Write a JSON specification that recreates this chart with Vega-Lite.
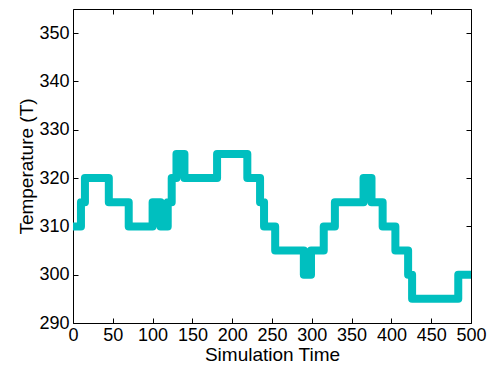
{
  "$schema": "https://vega.github.io/schema/vega-lite/v6.json",
  "autosize": {"type": "none"},
  "padding": {"left": 73, "top": 9, "right": 20, "bottom": 43},
  "width": 398,
  "height": 314,
  "config": {
    "view": {"stroke": "#000", "strokeWidth": 1},
    "font": "Liberation Sans",
    "axis": {
      "grid": false,
      "domain": false,
      "labelColor": "#000",
      "titleColor": "#000",
      "labelFont": "Liberation Sans",
      "titleFont": "Liberation Sans",
      "labelFontSize": 18,
      "titleFontSize": 19,
      "titleFontWeight": "normal",
      "tickColor": "#000",
      "tickSize": -5,
      "tickWidth": 1,
      "labelFlush": false,
      "labelOverlap": false
    }
  },
  "data": {
    "values": [
      {"t": 0, "T": 310},
      {"t": 10, "T": 315},
      {"t": 15, "T": 320},
      {"t": 45, "T": 315},
      {"t": 70, "T": 310},
      {"t": 100, "T": 315},
      {"t": 110, "T": 310},
      {"t": 119, "T": 315},
      {"t": 124, "T": 320},
      {"t": 130, "T": 325},
      {"t": 140, "T": 320},
      {"t": 181, "T": 325},
      {"t": 219, "T": 320},
      {"t": 235, "T": 315},
      {"t": 240, "T": 310},
      {"t": 254, "T": 305},
      {"t": 290, "T": 300},
      {"t": 299, "T": 305},
      {"t": 315, "T": 310},
      {"t": 329, "T": 315},
      {"t": 365, "T": 320},
      {"t": 375, "T": 315},
      {"t": 389, "T": 310},
      {"t": 405, "T": 305},
      {"t": 421, "T": 300},
      {"t": 426, "T": 295},
      {"t": 484, "T": 300},
      {"t": 500, "T": 300}
    ]
  },
  "layer": [
    {
      "mark": {"type": "line", "interpolate": "step-after", "color": "#00BFBF", "strokeWidth": 8, "strokeJoin": "round", "strokeCap": "butt", "clip": true},
      "encoding": {
        "x": {"field": "t", "type": "quantitative", "scale": {"domain": [0, 500], "nice": false, "zero": false},
              "axis": {"orient": "bottom", "title": "Simulation Time", "values": [0,50,100,150,200,250,300,350,400,450,500], "labelPadding": 8, "titlePadding": 1}},
        "y": {"field": "T", "type": "quantitative", "scale": {"domain": [290, 355], "nice": false, "zero": false},
              "axis": {"orient": "left", "title": "Temperature (T)", "values": [290,300,310,320,330,340,350], "labelPadding": 9, "titlePadding": 2}}
      }
    },
    {
      "mark": {"type": "line", "opacity": 0},
      "encoding": {
        "x": {"field": "t", "type": "quantitative", "axis": {"orient": "top", "title": null, "labels": false, "values": [0,50,100,150,200,250,300,350,400,450,500]}},
        "y": {"field": "T", "type": "quantitative", "axis": {"orient": "right", "title": null, "labels": false, "values": [290,300,310,320,330,340,350]}}
      }
    }
  ],
  "resolve": {"axis": {"x": "independent", "y": "independent"}}
}
